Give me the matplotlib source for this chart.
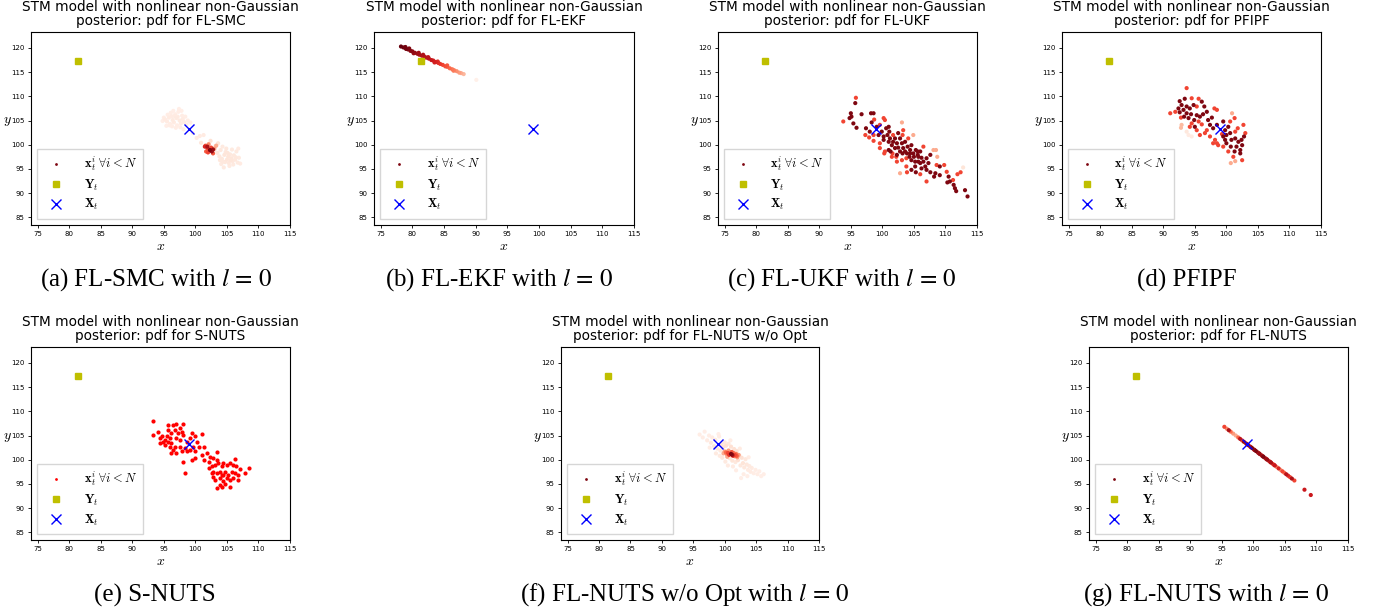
import numpy as np
import matplotlib
matplotlib.use("Agg")
from matplotlib import pyplot as plt
from matplotlib.lines import Line2D

plt.rcParams['mathtext.fontset'] = 'cm'

# true state and observation (same in every panel)
X_true = (99.0, 103.3)
Y_obs = (81.4, 117.4)

# particles: (x, y, weight 0..1 on the Reds map)
smc_pts = [
    (95.2, 105.2, .06), (95.5, 104.8, .06), (95.8, 105.6, .06), (96.0, 104.3, .05), (96.2, 105.9, .06),
    (96.4, 105.1, .07), (96.6, 104.6, .06), (96.8, 106.3, .05), (97.0, 105.5, .07), (97.1, 104.0, .05),
    (97.3, 106.8, .05), (97.5, 105.0, .07), (97.7, 104.4, .06), (97.9, 106.0, .05), (98.0, 105.3, .06),
    (98.2, 104.7, .06), (95.0, 105.6, .05), (95.6, 106.2, .05), (96.3, 103.8, .05), (96.9, 103.5, .05),
    (97.4, 107.4, .04), (98.4, 105.8, .05), (98.6, 104.2, .05), (96.1, 106.6, .05), (97.6, 103.6, .05),
    (95.9, 104.0, .05), (96.7, 105.9, .06), (97.2, 105.8, .06), (98.8, 105.0, .05), (99.2, 104.6, .04),
    (94.8, 104.9, .04), (97.8, 107.0, .04), (96.5, 107.0, .04), (98.1, 103.2, .04), (95.4, 103.9, .04),
    (103.5, 98.3, .08), (103.8, 97.6, .08), (104.0, 98.9, .08), (104.2, 97.1, .08), (104.4, 96.5, .08),
    (104.6, 97.9, .09), (104.8, 98.5, .08), (105.0, 96.9, .09), (105.2, 97.5, .09), (105.3, 96.2, .08),
    (105.5, 98.0, .08), (105.7, 97.2, .09), (105.9, 96.6, .08), (106.1, 97.8, .08), (106.3, 96.9, .08),
    (106.5, 98.6, .07), (106.7, 96.3, .07), (106.9, 97.3, .07), (104.1, 96.0, .07), (103.2, 99.7, .1),
    (103.6, 100.3, .1), (104.9, 99.2, .08), (105.4, 95.6, .07), (106.0, 95.9, .07), (104.5, 95.3, .07),
    (103.9, 96.8, .08), (105.1, 98.3, .09), (105.8, 99.0, .07), (106.4, 97.4, .08), (104.7, 96.4, .08),
    (103.0, 98.9, .12), (107.1, 96.1, .06), (105.6, 96.8, .09), (104.3, 99.6, .07), (106.8, 99.2, .06),
    (99.6, 102.4, .05), (100.2, 101.4, .06), (100.7, 101.8, .06), (101.3, 102.0, .06), (100.9, 100.4, .08),
    (102.4, 100.8, .12),
    (101.6, 99.8, .55), (101.9, 99.3, .6), (102.1, 100.1, .4), (102.5, 99.4, .6), (101.7, 98.6, .55),
    (103.0, 99.2, .35), (102.8, 98.2, .55), (103.3, 99.8, .3), (102.0, 98.4, .6), (101.5, 99.6, .7),
    (102.3, 98.9, .95), (102.6, 98.6, .9), (101.9, 99.6, .85), (102.8, 99.0, .9),
]

ekf_pts = [
    (78.2, 120.3, 1.0), (78.6, 120.1, .98), (79.0, 119.8, .97), (79.3, 119.7, .95), (79.7, 119.4, .93),
    (80.0, 119.3, .92), (80.4, 119.0, .9), (80.8, 118.8, .88), (81.1, 118.6, .86), (81.5, 118.4, .84),
    (81.9, 118.2, .82), (82.2, 118.0, .8), (82.6, 117.8, .78), (83.0, 117.5, .76), (83.3, 117.4, .73),
    (83.7, 117.1, .7), (84.1, 116.9, .67), (84.4, 116.7, .64), (84.8, 116.5, .6), (85.2, 116.2, .57),
    (85.5, 116.1, .53), (85.9, 115.8, .5), (86.3, 115.6, .46), (86.6, 115.4, .42), (87.0, 115.2, .38),
    (87.4, 114.9, .34), (87.7, 114.8, .3), (88.1, 114.6, .26), (90.1, 113.4, .03),
    (79.5, 119.9, .95), (81.0, 119.0, .88), (82.5, 118.1, .8), (84.0, 117.2, .68), (85.5, 116.4, .55),
    (80.2, 118.9, .9), (83.5, 117.0, .72), (86.5, 115.3, .44), (78.9, 120.2, .97), (81.7, 118.6, .83),
]

ukf_pts = [
    (95.8, 109.7, .6), (95.7, 108.6, .95), (95.0, 106.5, .95), (95.1, 105.8, .95), (94.8, 105.5, .95),
    (93.8, 104.8, .6), (95.4, 104.4, .95), (95.9, 103.5, .95), (96.7, 106.3, .95), (98.2, 106.5, .95),
    (98.6, 106.5, .95), (98.7, 105.2, .6), (98.3, 104.6, .95), (100.2, 105.5, .6), (100.4, 105.1, .6),
    (97.4, 103.4, .95), (97.3, 102.0, .6), (98.0, 102.7, .95), (98.6, 102.0, .6), (97.9, 101.5, .6),
    (98.6, 100.8, .6), (99.4, 102.0, .95), (99.9, 102.7, .95), (100.2, 101.7, .95), (101.0, 103.7, .95),
    (101.1, 102.7, .95), (100.8, 102.0, .95), (101.2, 101.3, .95), (101.0, 100.6, .95), (101.7, 102.0, .6),
    (103.1, 104.6, .3), (103.3, 103.0, .6), (103.2, 102.0, .6), (102.5, 102.4, .95), (102.8, 101.3, .95),
    (102.3, 100.3, .95), (101.5, 99.9, .95), (102.0, 99.3, .95), (103.1, 100.3, .95), (103.6, 100.6, .95),
    (104.1, 101.3, .6), (104.0, 99.6, .95), (104.6, 99.9, .95), (104.4, 98.9, .95), (104.9, 102.0, .3),
    (103.6, 98.6, .95), (102.8, 98.6, .95), (102.3, 97.9, .95), (101.6, 98.2, .6), (101.0, 98.9, .95),
    (100.4, 98.6, .6), (101.5, 97.5, .6), (99.6, 99.3, .6), (100.3, 98.2, .6), (104.9, 98.2, .95),
    (105.3, 98.9, .95), (105.6, 97.9, .95), (106.0, 98.6, .95), (106.2, 97.3, .95), (106.5, 99.6, .6),
    (105.7, 96.5, .95), (105.2, 96.5, .95), (104.6, 96.8, .95), (104.3, 97.5, .95), (103.8, 97.2, .6),
    (103.1, 96.8, .6), (102.3, 96.5, .6), (102.2, 97.5, .6), (107.0, 97.2, .95), (107.6, 97.9, .95),
    (108.1, 98.9, .3), (108.5, 98.9, .3), (108.7, 97.5, .3), (107.3, 96.2, .95), (106.8, 95.5, .95),
    (106.2, 95.1, .95), (107.0, 94.8, .95), (107.6, 94.3, .95), (106.0, 93.9, .6), (105.3, 94.3, .95),
    (104.6, 94.8, .95), (103.9, 94.3, .6), (102.8, 94.1, .3), (103.8, 95.5, .6), (108.6, 95.8, .6),
    (109.1, 95.5, .95), (109.8, 95.8, .6), (108.4, 94.1, .95), (108.2, 93.4, .95), (107.0, 92.4, .6),
    (109.1, 93.7, .95), (110.2, 94.4, .6), (110.5, 93.4, .95), (110.7, 92.4, .95), (110.3, 92.2, .95),
    (111.2, 92.7, .6), (111.9, 93.9, .6), (112.4, 94.3, .6), (112.8, 95.3, .1), (111.3, 91.7, .95),
    (111.5, 91.0, .95), (111.7, 90.4, .95), (113.1, 90.6, .95), (113.5, 89.3, .95),
    (102.5, 99.4, .95), (103.3, 99.3, .95), (104.4, 98.2, .95), (105.0, 97.5, .95), (105.7, 97.5, .95),
    (106.0, 96.2, .95), (106.5, 96.5, .95), (105.2, 95.5, .95), (105.6, 98.6, .95), (103.9, 98.2, .95),
    (103.2, 98.2, .95), (101.3, 98.6, .95), (101.7, 100.6, .95), (102.0, 101.3, .95), (100.2, 101.0, .95),
    (99.6, 100.3, .6), (100.6, 103.4, .95), (99.1, 103.7, .95), (99.6, 104.1, .6),
]

pfipf_pts = [
    (93.7, 111.7, .6), (93.4, 109.5, .95), (92.6, 109.0, .95), (94.5, 109.6, .6), (95.6, 109.5, .6),
    (96.1, 108.9, .95), (92.9, 108.2, .95), (93.7, 107.9, .95), (94.2, 107.5, .95), (92.4, 107.5, .95),
    (93.2, 107.2, .95), (91.9, 106.8, .6), (91.1, 106.5, .6), (92.6, 106.7, .95), (93.7, 106.5, .95),
    (94.4, 106.3, .95), (93.3, 105.8, .95), (94.0, 105.5, .95), (92.8, 105.6, .6), (94.8, 108.2, .95),
    (95.3, 107.9, .6), (96.5, 107.9, .95), (96.9, 106.8, .95), (96.3, 106.3, .95), (95.8, 105.8, .95),
    (95.3, 106.1, .95), (94.9, 105.1, .95), (95.6, 104.8, .6), (94.5, 104.4, .6), (92.9, 104.1, .25),
    (92.8, 103.5, .25), (93.7, 102.7, .08), (94.2, 103.7, .6), (95.0, 103.7, .95), (96.1, 104.2, .6),
    (97.1, 105.1, .95), (97.7, 105.6, .95), (98.1, 107.5, .6), (98.5, 107.2, .6), (97.4, 104.1, .95),
    (96.9, 103.0, .6), (97.9, 103.4, .95), (98.5, 104.1, .95), (99.5, 104.8, .95), (100.6, 104.8, .6),
    (100.9, 106.5, .3), (101.3, 105.5, .6), (100.3, 103.7, .95), (99.8, 103.0, .95), (99.3, 102.2, .6),
    (98.2, 101.0, .6), (98.5, 100.3, .6), (99.5, 101.7, .95), (100.0, 102.0, .95), (100.6, 102.4, .95),
    (101.4, 102.7, .6), (101.8, 103.4, .6), (102.7, 104.1, .6), (103.0, 102.4, .6), (100.8, 101.0, .95),
    (101.4, 101.3, .95), (101.9, 100.6, .95), (102.4, 101.0, .95), (102.8, 101.7, .95), (100.0, 100.3, .95),
    (100.7, 99.6, .95), (101.6, 99.6, .95), (102.2, 98.9, .95), (102.5, 99.9, .95), (101.3, 98.6, .95),
    (100.3, 98.6, .6), (99.5, 99.6, .6), (98.7, 99.9, .6), (101.1, 97.5, .6), (100.7, 96.2, .3),
    (101.4, 96.6, .3), (102.5, 96.8, .6), (102.2, 98.2, .95), (99.8, 101.0, .95), (97.9, 100.3, .6),
    (97.4, 101.7, .6), (96.6, 102.4, .6), (95.8, 102.0, .6), (95.3, 103.0, .6), (94.0, 102.0, .06),
    (94.5, 101.7, .06),
]

snuts_pts = [
    (93.3, 107.9), (93.3, 105.1), (94.1, 105.8), (94.4, 104.4), (94.9, 103.7), (94.7, 104.8), (95.2, 104.1),
    (95.5, 104.8), (95.7, 103.7), (96.0, 104.4), (96.2, 103.4), (95.7, 106.2), (95.7, 107.2), (96.5, 107.2),
    (97.0, 107.4), (98.1, 107.4), (97.6, 106.5), (97.8, 105.8), (97.3, 105.5), (96.8, 106.2), (96.2, 105.5),
    (98.1, 105.1), (99.4, 105.5), (99.9, 104.8), (101.0, 105.3), (96.5, 102.0), (96.2, 101.3), (97.0, 101.3),
    (97.6, 102.7), (97.8, 101.7), (98.4, 102.4), (98.6, 101.7), (99.2, 102.0), (99.7, 102.7), (100.2, 103.7),
    (100.5, 102.7), (99.9, 101.7), (98.0, 99.6), (99.4, 99.9), (99.9, 100.3), (98.4, 97.3), (101.0, 101.0),
    (101.3, 99.9), (102.1, 99.6), (102.3, 100.6), (102.8, 100.3), (103.5, 101.5), (103.4, 99.9), (102.6, 98.6),
    (102.1, 98.2), (103.1, 98.9), (103.6, 99.3), (104.2, 98.6), (104.4, 99.4), (105.0, 98.9), (105.5, 99.3),
    (106.3, 100.1), (106.0, 98.9), (106.5, 98.6), (107.1, 98.0), (107.9, 97.3), (108.5, 98.2), (102.8, 97.5),
    (103.4, 97.2), (103.9, 97.5), (104.4, 96.8), (104.7, 97.5), (105.2, 96.8), (105.8, 97.5), (106.3, 97.2),
    (106.8, 96.8), (102.8, 96.5), (103.1, 95.8), (103.9, 96.2), (104.4, 95.5), (105.0, 96.2), (105.5, 95.8),
    (106.0, 96.2), (106.8, 95.8), (103.9, 94.8), (104.7, 95.0), (105.5, 94.4), (103.5, 94.1), (104.2, 94.3),
    (102.6, 97.2), (104.2, 96.8), (101.8, 101.3), (101.3, 102.7), (97.6, 104.1), (98.6, 103.7), (99.2, 104.4),
    (97.0, 104.4), (95.2, 103.1), (96.8, 102.7), (94.4, 103.4), (96.0, 102.7),
]

nuts_noopt_pts = [
    (96.0, 105.2, .05), (96.5, 104.6, .05), (96.8, 105.8, .04), (97.2, 104.0, .06), (97.5, 105.0, .05),
    (97.8, 103.5, .07), (98.0, 104.6, .06), (98.3, 102.8, .08), (98.5, 104.1, .07), (98.8, 102.3, .08),
    (99.1, 104.8, .05), (99.3, 101.9, .08), (99.5, 103.2, .1), (99.7, 102.6, .12), (99.9, 101.5, .12),
    (100.0, 103.6, .08), (100.2, 102.9, .12), (100.4, 100.9, .12), (100.6, 103.3, .08), (100.8, 100.3, .1),
    (101.0, 102.7, .12), (101.2, 99.8, .1), (101.5, 102.2, .12), (101.7, 99.5, .08), (101.9, 101.8, .12),
    (102.1, 99.9, .12), (102.3, 100.9, .15), (102.5, 98.8, .08), (102.7, 100.4, .12), (102.9, 99.3, .1),
    (103.1, 98.4, .08), (103.3, 100.1, .08), (103.5, 99.0, .08), (103.7, 97.9, .06), (103.9, 98.7, .07),
    (104.1, 97.5, .06), (104.3, 98.3, .06), (104.6, 97.2, .05), (104.9, 97.9, .05), (105.2, 97.0, .05),
    (105.5, 97.6, .04), (105.8, 96.6, .04), (106.2, 97.0, .04), (102.6, 96.2, .04), (103.0, 97.0, .05),
    (101.8, 97.8, .05), (100.5, 98.8, .06), (99.6, 100.4, .08), (98.6, 101.3, .07), (97.6, 102.5, .05),
    (99.0, 105.3, .04), (100.9, 104.0, .05), (102.4, 102.3, .06), (103.8, 100.5, .05), (101.3, 98.6, .06),
    (103.6, 96.6, .04), (99.2, 100.8, .07), (100.1, 99.6, .07),
    (100.0, 101.7, .35), (100.3, 101.2, .4), (100.6, 101.9, .35), (101.4, 101.4, .45), (101.6, 100.7, .4),
    (101.8, 101.2, .45), (102.0, 100.5, .35), (99.8, 101.3, .3), (100.4, 100.6, .3), (102.2, 101.0, .35),
    (100.5, 101.4, .6), (100.7, 101.0, .65), (101.1, 101.6, .55), (101.3, 100.8, .65), (101.6, 101.0, .6),
    (101.9, 100.8, .55), (100.2, 101.5, .5),
    (101.0, 101.2, .95), (101.2, 101.0, .9),
]

nuts_pts = [
    (95.4, 106.8, .6), (95.8, 106.4, .4), (96.1, 106.1, .85), (96.4, 105.8, .5), (96.8, 105.4, .35),
    (97.2, 105.0, .3), (97.6, 104.6, .5), (97.9, 104.3, .8), (98.2, 104.0, .6), (98.5, 103.7, .9),
    (98.8, 103.4, .7), (99.2, 103.0, .9), (99.5, 102.7, .75), (99.8, 102.4, .95), (100.1, 102.1, .8),
    (100.4, 101.8, .95), (100.7, 101.5, .85), (101.0, 101.2, .9), (101.3, 100.9, .75), (101.6, 100.6, .95),
    (101.9, 100.3, .8), (102.2, 100.0, .9), (102.5, 99.7, .7), (102.8, 99.4, .85), (103.1, 99.1, .6),
    (103.4, 98.8, .75), (103.7, 98.5, .4), (104.0, 98.2, .7), (104.3, 97.9, .35), (104.6, 97.6, .6),
    (104.9, 97.3, .5), (105.2, 97.0, .8), (105.5, 96.7, .7), (105.8, 96.4, .6), (106.1, 96.1, .85),
    (106.5, 95.7, .6), (108.1, 93.8, .75), (109.1, 92.7, .75),
    (99.0, 103.2, .9), (99.6, 102.6, .85), (100.2, 102.0, .9), (100.9, 101.3, .85), (101.5, 100.7, .9),
    (102.1, 100.1, .85), (102.7, 99.5, .8), (103.3, 98.9, .7),
]

panels = [
    ("FL-SMC", smc_pts, r"(a) FL-SMC with $l\,=\,0$"),
    ("FL-EKF", ekf_pts, r"(b) FL-EKF with $l\,=\,0$"),
    ("FL-UKF", ukf_pts, r"(c) FL-UKF with $l\,=\,0$"),
    ("PFIPF", pfipf_pts, "(d) PFIPF"),
    ("S-NUTS", snuts_pts, "(e) S-NUTS"),
    ("FL-NUTS w/o Opt", nuts_noopt_pts, r"(f) FL-NUTS w/o Opt with $l\,=\,0$"),
    ("FL-NUTS", nuts_pts, r"(g) FL-NUTS with $l\,=\,0$"),
]

# axes boxes in pixels: left, right, top, bottom ; caption centre x, caption y
W, H = 1380, 613
boxes = [
    (31, 290, 32, 225, 156, 280), (374, 634, 32, 225, 499, 280),
    (718, 977, 32, 225, 842, 280), (1062, 1321, 32, 225, 1187, 280),
    (31, 290, 347, 540, 155, 595), (561, 819, 347, 540, 685, 595),
    (1089, 1348, 347, 540, 1206, 595),
]

fig = plt.figure(figsize=(W / 100, H / 100), dpi=100)

for (name, pts, cap), (l, r, t, b, cx, cy) in zip(panels, boxes):
    ax = fig.add_axes([l / W, 1 - b / H, (r - l) / W, (b - t) / H])
    pts = np.array(pts)
    if pts.shape[1] == 3:
        order = np.argsort(pts[:, 2])
        pts = pts[order]
        ax.scatter(pts[:, 0], pts[:, 1], c=pts[:, 2], cmap='Reds', vmin=0, vmax=1,
                   s=9, linewidths=0, zorder=2)
        pc = plt.get_cmap('Reds')(0.95)
    else:
        ax.scatter(pts[:, 0], pts[:, 1], c='r', s=9, linewidths=0, zorder=2)
        pc = 'r'
    ax.plot(*Y_obs, 's', color='y', ms=4.2, zorder=3)
    ax.plot(*X_true, 'x', color='b', ms=6.5, mew=1, zorder=4)

    ax.set_xlim(73.94, 115)
    ax.set_ylim(83.4, 123.3)
    ax.set_xticks(range(75, 116, 5))
    ax.set_yticks(range(85, 121, 5))
    ax.tick_params(labelsize=5, length=2.5, width=0.6, pad=2)
    ax.set_xlabel("$x$", fontsize=10, labelpad=1)
    ax.set_ylabel("$y$", fontsize=10, rotation=0, labelpad=3)
    ax.set_title("STM model with nonlinear non-Gaussian\nposterior: pdf for " + name,
                 fontsize=9.8, pad=5, linespacing=1.0)

    handles = [
        Line2D([], [], ls='none', marker='o', ms=2, color=pc, mew=0),
        Line2D([], [], ls='none', marker='s', ms=4.5, color='y'),
        Line2D([], [], ls='none', marker='x', ms=6.5, color='b'),
    ]
    labels = [r"$\mathbf{x}_t^i\ \forall i < N$", r"$\mathbf{Y}_t$", r"$\mathbf{X}_t$"]
    ax.legend(handles, labels, loc='lower left', fontsize=9, handletextpad=1.2,
              labelspacing=0.35, borderpad=0.5, fancybox=False, framealpha=0.8)

    fig.text(cx / W, 1 - cy / H, cap, ha='center', va='center', fontsize=18,
             family='Liberation Serif', math_fontfamily='stix')

fig.savefig("out.png", dpi=100)
